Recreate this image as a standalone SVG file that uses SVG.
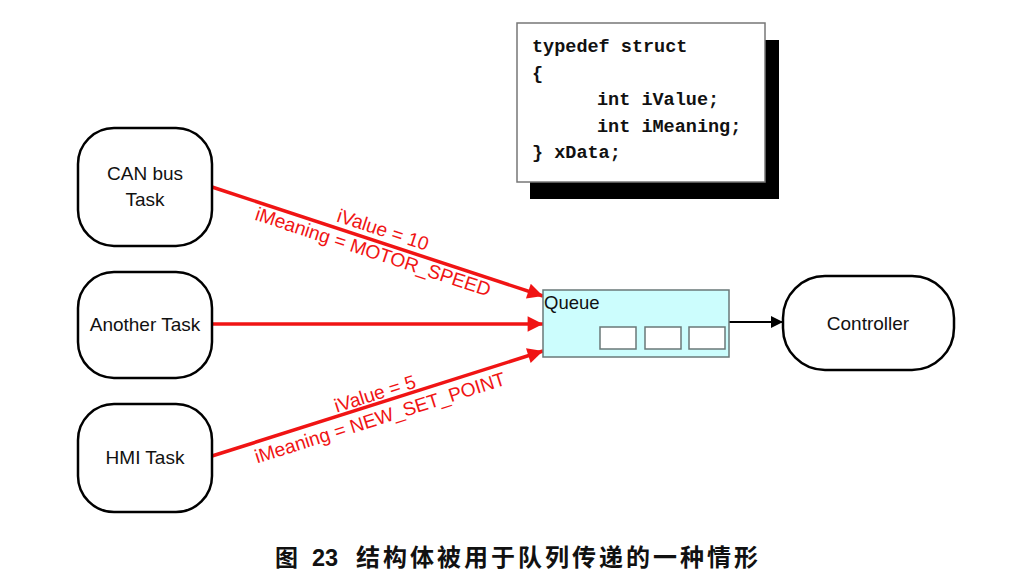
<svg xmlns="http://www.w3.org/2000/svg" width="1036" height="587" viewBox="0 0 1036 587">
<style>
.node{fill:#fff;stroke:#000;stroke-width:2.5}
.lbl{font-family:"Liberation Sans",Arial,sans-serif;font-size:19px;fill:#111;text-anchor:middle}
.red{stroke:#f01414;stroke-width:3.5;fill:none}
.rt{font-family:"Liberation Sans",Arial,sans-serif;font-size:19.2px;fill:#f01414;text-anchor:middle}
.code{font-family:"Liberation Mono","Courier New",monospace;font-size:18.5px;font-weight:bold;fill:#111;white-space:pre}
.slot{fill:#fff;stroke:#6a7878;stroke-width:1.5}
</style>
<defs>
<marker id="ar" viewBox="0 0 10 10" refX="10" refY="5" markerWidth="5.4" markerHeight="4.4" markerUnits="strokeWidth" orient="auto">
<path d="M0,0 L10,5 L0,10 z" fill="#f01414"/>
</marker>
<marker id="ab" viewBox="0 0 10 10" refX="10" refY="5" markerWidth="8" markerHeight="6" markerUnits="strokeWidth" orient="auto">
<path d="M0,0 L10,5 L0,10 z" fill="#000"/>
</marker>
</defs>
<rect width="1036" height="587" fill="#fff"/>

<g id="struct">
<rect x="530" y="40" width="249" height="159" fill="#000"/>
<rect x="517" y="23" width="248" height="159" fill="#fff" stroke="#777" stroke-width="1.5"/>
<text class="code" x="532" y="52">typedef struct</text>
<text class="code" x="532" y="79">{</text>
<text class="code" x="597" y="105">int iValue;</text>
<text class="code" x="597" y="132">int iMeaning;</text>
<text class="code" x="532" y="158">} xData;</text>
</g>

<g id="connectors">
<line class="red" x1="212" y1="187" x2="543" y2="296" marker-end="url(#ar)"/>
<line class="red" x1="212" y1="324" x2="543" y2="324" marker-end="url(#ar)"/>
<line class="red" x1="212" y1="456" x2="543" y2="351" marker-end="url(#ar)"/>
<line x1="729" y1="322" x2="783" y2="322" stroke="#000" stroke-width="2" marker-end="url(#ab)"/>
<text class="rt" transform="translate(381,236) rotate(18.2)">iValue = 10</text>
<text class="rt" transform="translate(371,258) rotate(18.2)">iMeaning = MOTOR_SPEED</text>
<text class="rt" transform="translate(377,400) rotate(-17.6)">iValue = 5</text>
<text class="rt" transform="translate(382,424) rotate(-17.6)">iMeaning = NEW_SET_POINT</text>
</g>

<g id="can">
<rect class="node" x="78" y="128" width="134" height="118" rx="36"/>
<text class="lbl" x="145" y="180">CAN bus</text>
<text class="lbl" x="145" y="206">Task</text>
</g>
<g id="another">
<rect class="node" x="78" y="272" width="134" height="106" rx="36"/>
<text class="lbl" x="145" y="331">Another Task</text>
</g>
<g id="hmi">
<rect class="node" x="78" y="404" width="134" height="108" rx="36"/>
<text class="lbl" x="145" y="464">HMI Task</text>
</g>
<g id="queue">
<rect x="543" y="290" width="186" height="67" fill="#ccfdfd" stroke="#6a7878" stroke-width="1.5"/>
<text x="544" y="309" font-family="Liberation Sans,Arial,sans-serif" font-size="18.5" fill="#111">Queue</text>
<rect class="slot" x="600" y="327" width="36" height="22"/>
<rect class="slot" x="645" y="327" width="36" height="22"/>
<rect class="slot" x="689" y="327" width="36" height="22"/>
</g>
<g id="controller">
<rect class="node" x="783" y="276" width="171" height="94" rx="42"/>
<text class="lbl" x="868" y="330">Controller</text>
</g>

<g id="caption" font-weight="bold" fill="#111">
<text x="275" y="566" font-family="Noto Sans CJK SC,sans-serif" font-size="23">图</text>
<text x="312" y="566" font-family="Liberation Sans,Arial,sans-serif" font-size="23.5">23</text>
<text x="356" y="566" font-family="Noto Sans CJK SC,sans-serif" font-size="24" letter-spacing="3">结构体被用于队列传递的一种情形</text>
</g>
</svg>
